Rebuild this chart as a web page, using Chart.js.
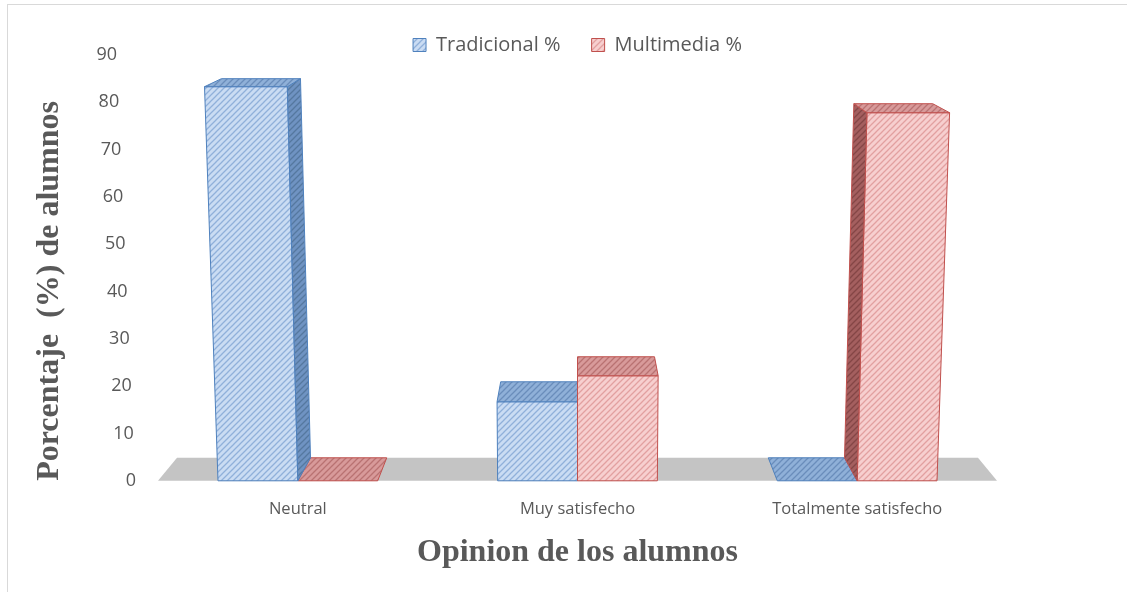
<!DOCTYPE html>
<html>
<head>
<meta charset="utf-8">
<script src="https://cdn.jsdelivr.net/npm/chart.js@4/dist/chart.umd.min.js"></script>
<style>
  html, body { margin: 0; padding: 0; background: #fff; }
  #wrap { width: 1127px; height: 592px; position: relative; }
</style>
</head>
<body>
<div id="wrap"><canvas id="grafico"></canvas></div>
<script>
// datos
const categorias = ['Neutral', 'Muy satisfecho', 'Totalmente satisfecho'];
const tradicional = [83.3, 16.7, 0];
const multimedia = [0, 22.2, 77.8];
const ticksY = [0, 10, 20, 30, 40, 50, 60, 70, 80, 90];

function rayado(fondo, linea) {
    var c = document.createElement('canvas');
    c.width = 6; c.height = 6;
    var g = c.getContext('2d');
    g.fillStyle = fondo;
    g.fillRect(0, 0, 6, 6);
    g.strokeStyle = linea;
    g.lineWidth = 1.3;
    g.beginPath();
    g.moveTo(-1, 7); g.lineTo(7, -1);
    g.moveTo(-4, 4); g.lineTo(4, -4);
    g.moveTo(2, 10); g.lineTo(10, 2);
    g.stroke();
    return g.createPattern(c, 'repeat');
}

var ctx = document.getElementById('grafico').getContext('2d');

var azul = rayado('#cadcf3', '#90b0da');
var azulLado = rayado('#6f93c2', '#55789f');
var azulTapa = rayado('#8fb0d8', '#6a8dbb');
var rojo = rayado('#f7cfcf', '#e2a0a0');
var rojoLado = rayado('#a45f5f', '#844646');
var rojoTapa = rayado('#d89a9a', '#b97272');

function poligono(c, pts, relleno) {
    c.fillStyle = relleno;
    c.beginPath();
    c.moveTo(pts[0][0], pts[0][1]);
    for (var i = 1; i < pts.length; i++) c.lineTo(pts[i][0], pts[i][1]);
    c.closePath();
    c.fill();
    c.stroke();
}

// piso gris y barras en perspectiva (usa la geometria que calcula Chart.js)
var profundidad = {
    id: 'profundidad',
    afterLayout: function(chart) {
        chart.legend.top += 10;
        chart.legend.bottom += 10;
    },
    beforeDatasetsDraw: function(chart) {
        var a = chart.chartArea;
        var base = chart.scales.y.getPixelForValue(0);
        var c = chart.ctx;
        c.save();
        c.fillStyle = '#c4c4c4';
        c.beginPath();
        c.moveTo(a.left, base);
        c.lineTo(a.right, base);
        c.lineTo(a.right - 19, base - 23);
        c.lineTo(a.left + 19, base - 23);
        c.closePath();
        c.fill();
        c.restore();
    },
    beforeDatasetDraw: function() {
        return false;
    },
    afterDatasetsDraw: function(chart) {
        var a = chart.chartArea;
        var medio = (a.left + a.right) / 2;
        var k = 19 / (medio - a.left);
        var c = chart.ctx;
        function dx(x) { return (medio - x) * k; }
        var barras = [];
        chart.data.datasets.forEach(function(ds, i) {
            chart.getDatasetMeta(i).data.forEach(function(el) {
                barras.push({ el: el, ds: ds, i: i });
            });
        });
        // primero las barras planas (valor 0)
        barras.sort(function(p, q) {
            return (p.el.base - p.el.y) - (q.el.base - q.el.y) > 0 ? 1 : -1;
        });
        barras.forEach(function(b) {
            var el = b.el, ds = b.ds;
            var frente = b.i === 0 ? azul : rojo;
            var lado = b.i === 0 ? azulLado : rojoLado;
            var tapa = b.i === 0 ? azulTapa : rojoTapa;
            var x0 = el.x - el.width / 2, x1 = el.x + el.width / 2;
            var top = el.y, base = el.base, h = base - top;
            var L = base - a.top + 50;
            var t0 = x0 - dx(x0) * h / L, t1 = x1 - dx(x1) * h / L;
            var dyT = 23 - h * 0.038;
            c.save();
            c.strokeStyle = ds.borderColor;
            c.lineWidth = 1;
            if (h > 1) {
                poligono(c, [[x0, base], [x1, base], [t1, top], [t0, top]], frente);
                if (dx(x1) > 1) {
                    poligono(c, [[x1, base], [t1, top], [t1 + dx(t1), top - dyT], [x1 + dx(x1), base - 23]], lado);
                } else if (dx(x0) < -1) {
                    poligono(c, [[x0, base], [t0, top], [t0 + dx(t0), top - dyT], [x0 + dx(x0), base - 23]], lado);
                }
            }
            poligono(c, [[t0, top], [t1, top], [t1 + dx(t1), top - dyT], [t0 + dx(t0), top - dyT]], tapa);
            c.restore();
        });
    },
    afterDraw: function(chart) {
        var c = chart.ctx;
        var y = chart.scales.y;
        c.save();
        c.font = '18px "Open Sans"';
        c.fillStyle = '#595959';
        c.textAlign = 'right';
        c.textBaseline = 'middle';
        ticksY.forEach(function(v) {
            c.fillText(String(v), chart.chartArea.left - 22 - v * 0.21, y.getPixelForValue(v));
        });
        c.strokeStyle = '#d9d9d9';
        c.lineWidth = 1;
        c.strokeRect(7.5, 4.5, 1125, 600);
        c.restore();
    }
};

var myChart = new Chart(ctx, {
    type: 'bar',
    data: {
        labels: categorias,
        datasets: [{
            label: 'Tradicional %',
            data: tradicional,
            backgroundColor: azul,
            borderColor: '#4f81bd',
            borderWidth: 1
        }, {
            label: 'Multimedia %',
            data: multimedia,
            backgroundColor: rojo,
            borderColor: '#c0504d',
            borderWidth: 1
        }]
    },
    options: {
        responsive: true,
        maintainAspectRatio: false,
        animation: false,
        layout: { padding: { left: 8, right: 130, top: 25, bottom: 20 } },
        datasets: { bar: { barPercentage: 1, categoryPercentage: 0.571 } },
        plugins: {
            legend: {
                position: 'top',
                fullSize: false,
                labels: {
                    boxWidth: 13,
                    boxHeight: 13,
                    padding: 0,
                    color: '#595959',
                    font: { family: 'Open Sans', size: 20 },
                    generateLabels: function(chart) {
                        var items = Chart.defaults.plugins.legend.labels.generateLabels(chart);
                        items[0].text = items[0].text + '      ';
                        return items;
                    }
                }
            },
            tooltip: { enabled: false }
        },
        scales: {
            x: {
                grid: { display: false },
                border: { display: false },
                ticks: { color: '#595959', padding: 11, font: { family: 'Open Sans', size: 16.5 } },
                title: {
                    display: true,
                    text: 'Opinion de los alumnos',
                    color: '#595959',
                    padding: { top: 3, bottom: 0 },
                    font: { family: 'Liberation Serif', size: 32, weight: 'bold' }
                }
            },
            y: {
                min: 0,
                max: 90,
                grid: { display: false },
                border: { display: false },
                ticks: { display: false, stepSize: 10 },
                afterFit: function(scale) { scale.width = 150; },
                title: {
                    display: true,
                    align: 'start',
                    text: 'Porcentaje  (%) de alumnos',
                    color: '#595959',
                    padding: { top: 23, bottom: 0 },
                    font: { family: 'Liberation Serif', size: 32, weight: 'bold' }
                }
            }
        }
    },
    plugins: [profundidad]
});
</script>
</body>
</html>
